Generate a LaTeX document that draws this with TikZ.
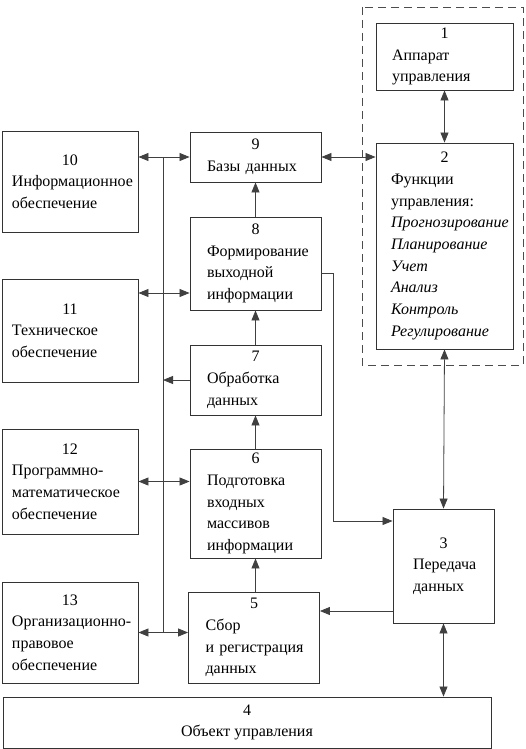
\documentclass[tikz,border=0pt]{standalone}
\usepackage{fontspec}
\setmainfont{Liberation Serif}
\usetikzlibrary{arrows.meta}
\newcommand{\blk}[2]{{\centering #1\par}#2}
\tikzset{
    blok/.style={draw=black!80,line width=0.9pt,rectangle,inner ysep=0pt,align=left},
    con/.style={draw=black!75,line width=0.8pt},
    >={Triangle[length=10pt,width=8pt]}
}
\begin{document}
\hyphenpenalty=10000 \exhyphenpenalty=10000
\begin{tikzpicture}[x=1pt,y=-1pt,font=\fontsize{16}{21.7}\selectfont]
\useasboundingbox (0,0) rectangle (526,749);
\draw[black!70,line width=0.8pt,dash pattern=on 8pt off 5pt] (362,7) rectangle (523,365);
\node[blok,inner xsep=16pt,text width=105,minimum width=137,minimum height=67] (b1) at (444.5,56.5) {\blk{1}{Аппарат\\управления}};
\node[blok,inner xsep=15pt,text width=107,minimum width=137,minimum height=206] (b2) at (444.5,246) {\blk{2}{Функции\\управления:\\\textit{Прогнозирование}\\\textit{Планирование}\\\textit{Учет}\\\textit{Анализ}\\\textit{Контроль}\\\textit{Регулирование}}};
\node[blok,inner xsep=20pt,text width=61,minimum width=101,minimum height=114] (b3) at (443.5,566) {\blk{3}{Передача\\данных}};
\node[blok,align=center,minimum width=488,minimum height=51] (b4) at (247,722.5) {4\\Объект управления};
\node[blok,inner xsep=17pt,text width=97,minimum width=131,minimum height=91] (b5) at (254,637.5) {\blk{5}{Сбор\\и~регистрация\\данных}};
\node[blok,inner xsep=17pt,text width=97,minimum width=131,minimum height=109] (b6) at (255.5,503.5) {\blk{6}{Подготовка\\входных\\массивов\\информации}};
\node[blok,inner xsep=17pt,text width=97,minimum width=131,minimum height=70] (b7) at (255.5,380) {\blk{7}{Обработка\\данных}};
\node[blok,inner xsep=17pt,text width=97,minimum width=131,minimum height=93] (b8) at (255.5,263.5) {\blk{8}{Формирование\\выходной\\информации}};
\node[blok,inner xsep=17pt,text width=97,minimum width=131,minimum height=50] (b9) at (255.5,157) {\blk{9}{Базы~данных}};
\node[blok,inner xsep=10pt,text width=116,minimum width=136,minimum height=101] (b10) at (70,181.5) {\blk{10}{Информационное\\обеспечение}};
\node[blok,inner xsep=10pt,text width=116,minimum width=136,minimum height=103] (b11) at (70,330.5) {\blk{11}{Техническое\\обеспечение}};
\node[blok,inner xsep=10pt,text width=116,minimum width=136,minimum height=105] (b12) at (70,481.5) {\blk{12}{Программно-\\математическое\\обеспечение}};
\node[blok,inner xsep=10pt,text width=116,minimum width=136,minimum height=101] (b13) at (70,632.5) {\blk{13}{Организационно-\\правовое\\обеспечение}};
\coordinate (bt) at (163,158);
\coordinate (bb) at (163,633);
\coordinate (t11) at (163,293);
\coordinate (k8) at (333,273);
\coordinate (k3) at (333,521);
\coordinate (t35) at (393,611);
\draw[con] (bt) -- (bb);
\draw[con,<->] (b10.east|-b9.west) -- (b9.west);
\draw[con,<->] (b11.east|-t11) -- (b8.west|-t11);
\draw[con,<->] (b12.east) -- (b6.west|-b12.east);
\draw[con,<->] (b13.east) -- (b5.west|-b13.east);
\draw[con,->] (b7.west) -- (bt|-b7.west);
\foreach \a/\b in {b5/b6,b6/b7,b7/b8,b8/b9} {
    \draw[con,->] (\a.north-|\b.south) -- (\b.south);
}
\draw[con,<->] (b9.east) -- (b2.west|-b9.east);
\draw[con,<->] (b1.south) -- (b2.north);
\draw[con,<->] (b2.south) -- (b3.north);
\draw[con,<->] (b3.south) -- (b4.north-|b3.south);
\draw[con,->] (b8.east|-k8) -- (k8) -- (k3) -- (b3.west|-k3);
\draw[con,->] (b3.west|-t35) -- (b5.east|-t35);
\end{tikzpicture}
\end{document}
